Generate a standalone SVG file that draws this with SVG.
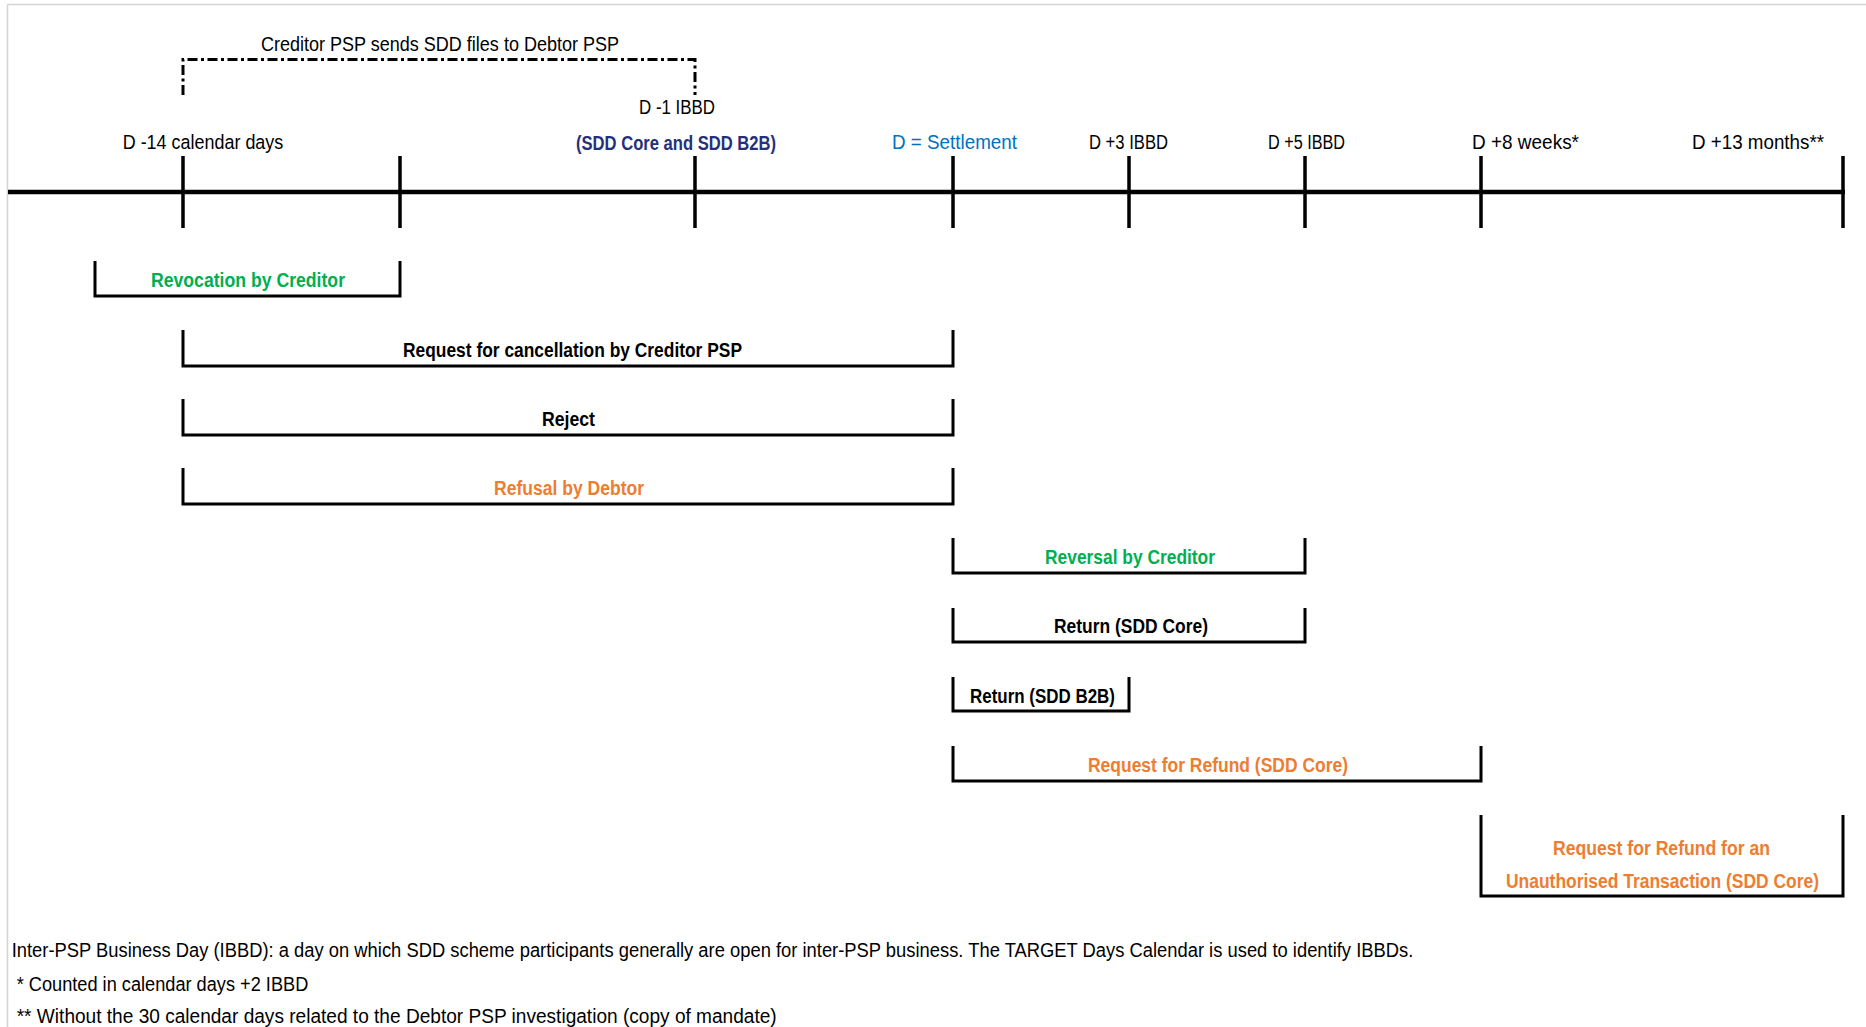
<svg xmlns="http://www.w3.org/2000/svg" width="1866" height="1027" viewBox="0 0 1866 1027">
<style>
text { font-family: "Liberation Sans", Arial, sans-serif; }
.t { font-size: 20.5px; fill: #000; }
.lbl { font-size: 19.5px; font-weight: bold; fill: #000; }
.foot { font-size: 20px; fill: #000; }
.green { fill: #00B050; }
.orange { fill: #ED7D31; }
.blue { fill: #0070C0; }
.navy { fill: #25307A; }
.br { fill: none; stroke: #000; stroke-width: 3; }
.tick { stroke: #000; stroke-width: 3.5; }
</style>
<rect x="0" y="0" width="1866" height="1027" fill="#fff"/>
<g id="frame">
<line x1="7.5" y1="4.5" x2="1866" y2="4.5" stroke="#D4D4D4" stroke-width="1.5"/>
<line x1="7.5" y1="4.5" x2="7.5" y2="1027" stroke="#D4D4D4" stroke-width="1.5"/>
</g>
<g id="timeline">
<line x1="8" y1="192" x2="1845" y2="192" stroke="#000" stroke-width="4.5"/>
<line class="tick" x1="183" y1="156" x2="183" y2="228"/>
<line class="tick" x1="400" y1="156" x2="400" y2="228"/>
<line class="tick" x1="695" y1="156" x2="695" y2="228"/>
<line class="tick" x1="953" y1="156" x2="953" y2="228"/>
<line class="tick" x1="1129" y1="156" x2="1129" y2="228"/>
<line class="tick" x1="1305" y1="156" x2="1305" y2="228"/>
<line class="tick" x1="1481" y1="156" x2="1481" y2="228"/>
<line class="tick" x1="1843" y1="156" x2="1843" y2="228"/>
</g>
<g id="timeline-labels">
<text class="t" x="122.7" y="148.5" textLength="160.6" lengthAdjust="spacingAndGlyphs">D -14 calendar days</text>
<text class="t" x="639" y="114" textLength="76" lengthAdjust="spacingAndGlyphs">D -1 IBBD</text>
<text class="t navy" x="576" y="149.5" font-weight="bold" textLength="200" lengthAdjust="spacingAndGlyphs">(SDD Core and SDD B2B)</text>
<text class="t blue" x="892" y="149" textLength="125" lengthAdjust="spacingAndGlyphs">D = Settlement</text>
<text class="t" x="1089" y="149" textLength="79" lengthAdjust="spacingAndGlyphs">D +3 IBBD</text>
<text class="t" x="1268" y="149" textLength="77" lengthAdjust="spacingAndGlyphs">D +5 IBBD</text>
<text class="t" x="1472" y="149" textLength="107" lengthAdjust="spacingAndGlyphs">D +8 weeks*</text>
<text class="t" x="1692" y="149" textLength="132" lengthAdjust="spacingAndGlyphs">D +13 months**</text>
</g>
<g id="sdd-files">
<path d="M183 95 V59.5 H695 V95" fill="none" stroke="#000" stroke-width="3" stroke-dasharray="10 3.5 3 3.5"/>
<text class="t" x="261" y="51" textLength="358" lengthAdjust="spacingAndGlyphs">Creditor PSP sends SDD files to Debtor PSP</text>
</g>
<g id="revocation">
<path class="br" d="M95 261 V296 H400 V261"/>
<text class="lbl green" x="151" y="287" textLength="194" lengthAdjust="spacingAndGlyphs">Revocation by Creditor</text>
</g>
<g id="cancellation">
<path class="br" d="M183 330 V366 H953 V330"/>
<text class="lbl" x="403" y="357" textLength="339" lengthAdjust="spacingAndGlyphs">Request for cancellation by Creditor PSP</text>
</g>
<g id="reject">
<path class="br" d="M183 399 V435 H953 V399"/>
<text class="lbl" x="542" y="426" textLength="53" lengthAdjust="spacingAndGlyphs">Reject</text>
</g>
<g id="refusal">
<path class="br" d="M183 468 V504 H953 V468"/>
<text class="lbl orange" x="494" y="495" textLength="150" lengthAdjust="spacingAndGlyphs">Refusal by Debtor</text>
</g>
<g id="reversal">
<path class="br" d="M953 538 V573 H1305 V538"/>
<text class="lbl green" x="1045" y="564" textLength="170" lengthAdjust="spacingAndGlyphs">Reversal by Creditor</text>
</g>
<g id="return-core">
<path class="br" d="M953 608 V642 H1305 V608"/>
<text class="lbl" x="1054" y="633" textLength="154" lengthAdjust="spacingAndGlyphs">Return (SDD Core)</text>
</g>
<g id="return-b2b">
<path class="br" d="M953 677 V711 H1129 V677"/>
<text class="lbl" x="970" y="703" textLength="145" lengthAdjust="spacingAndGlyphs">Return (SDD B2B)</text>
</g>
<g id="refund">
<path class="br" d="M953 746 V781 H1481 V746"/>
<text class="lbl orange" x="1088" y="772" textLength="260" lengthAdjust="spacingAndGlyphs">Request for Refund (SDD Core)</text>
</g>
<g id="refund-unauthorised">
<path class="br" d="M1481 815 V896 H1843 V815"/>
<text class="lbl orange" x="1553" y="855" textLength="217" lengthAdjust="spacingAndGlyphs">Request for Refund for an</text>
<text class="lbl orange" x="1506" y="888" textLength="313" lengthAdjust="spacingAndGlyphs">Unauthorised Transaction (SDD Core)</text>
</g>
<g id="footer">
<text class="foot" x="11.7" y="957" textLength="1401.6" lengthAdjust="spacingAndGlyphs">Inter-PSP Business Day (IBBD): a day on which SDD scheme participants generally are open for inter-PSP business. The TARGET Days Calendar is used to identify IBBDs.</text>
<text class="foot" x="16.7" y="991" textLength="291.6" lengthAdjust="spacingAndGlyphs">* Counted in calendar days +2 IBBD</text>
<text class="foot" x="16.7" y="1023" textLength="760" lengthAdjust="spacingAndGlyphs">** Without the 30 calendar days related to the Debtor PSP investigation (copy of mandate)</text>
</g>
</svg>
